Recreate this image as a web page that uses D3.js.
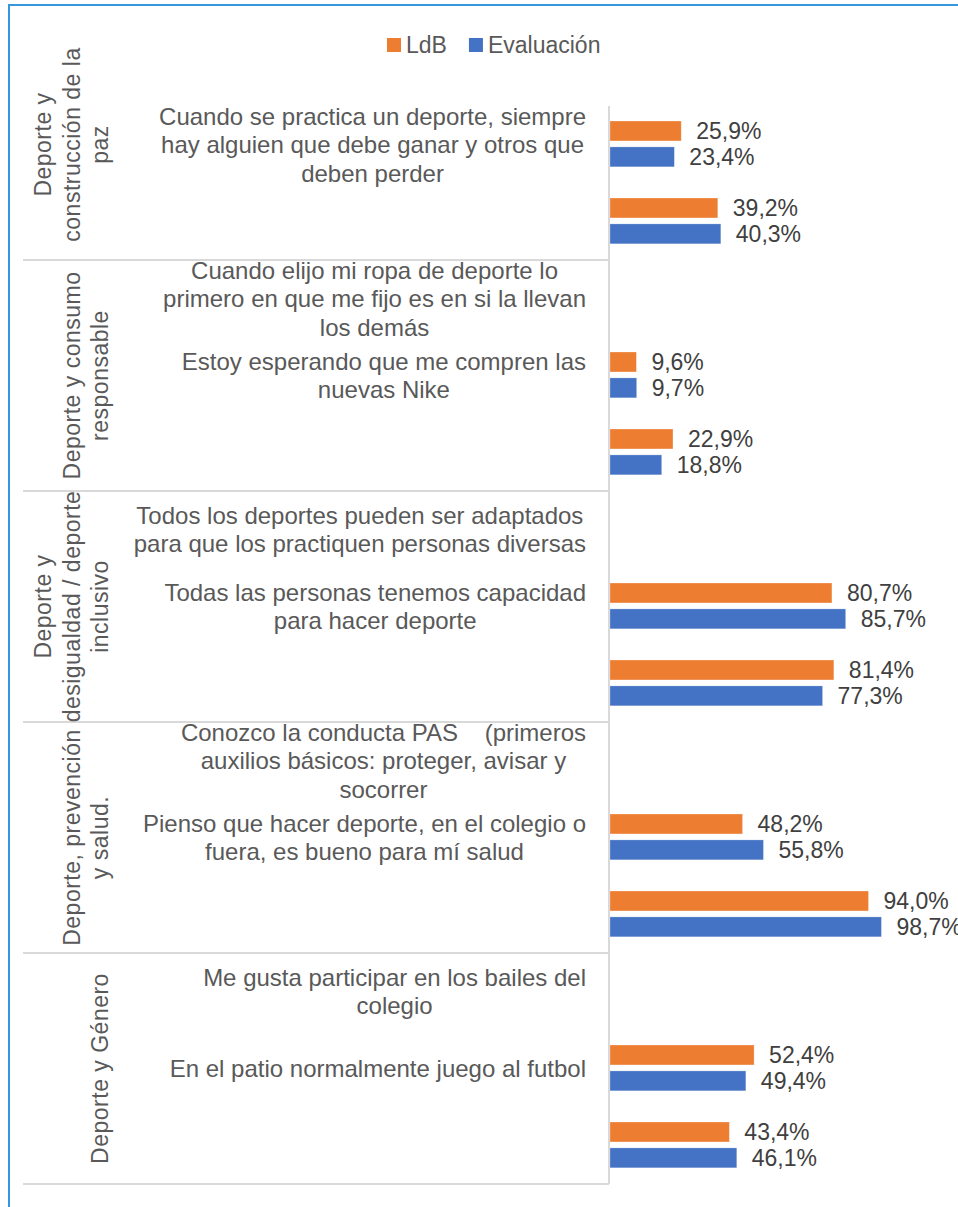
<!DOCTYPE html>
<html>
<head>
<meta charset="utf-8">
<script src="https://cdn.jsdelivr.net/npm/d3@7"></script>
<style>
  body { margin: 0; background: #fff; }
  svg { display: block; font-family: "Liberation Sans", Arial, sans-serif; }
  text { white-space: pre; }
</style>
</head>
<body>
<svg></svg>
<script>
// outer level of the category axis (one per group, 3 slots each)
const groups = [
  "Deporte y\nconstrucción de la\npaz",
  "Deporte y consumo\nresponsable",
  "Deporte y\ndesigualdad / deporte\ninclusivo",
  "Deporte, prevención\ny salud.",
  "Deporte y Género"
];
const slotsPerGroup = 3;

// inner level, top to bottom (empty string = no label shown)
const categories = [
  "", "Cuando se practica un deporte, siempre\nhay alguien que debe ganar y otros que\ndeben perder", "",
  "Cuando elijo mi ropa de deporte lo\nprimero en que me fijo es en si la llevan\nlos demás", "Estoy esperando que me compren las\nnuevas Nike", "",
  "Todos los deportes pueden ser adaptados\npara que los practiquen personas diversas", "Todas las personas tenemos capacidad\npara hacer deporte", "",
  "Conozco la conducta PAS    (primeros\nauxilios básicos: proteger, avisar y\nsocorrer", "Pienso que hacer deporte, en el colegio o\nfuera, es bueno para mí salud", "",
  "Me gusta participar en los bailes del\ncolegio", "En el patio normalmente juego al futbol", ""
];

const series = ["LdB", "Evaluación"];
const colors = ["#ED7D31", "#4472C4"];

// values per slot (null = no bar)
const ldb        = [null, 0.259, 0.392, null, 0.096, 0.229, null, 0.807, 0.814, null, 0.482, 0.940, null, 0.524, 0.434];
const evaluacion = [null, 0.234, 0.403, null, 0.097, 0.188, null, 0.857, 0.773, null, 0.558, 0.987, null, 0.494, 0.461];

const width = 958, height = 1207;
const fontSize = 23, catFont = 24, lineH = 28.5;

const svg = d3.select('svg')
    .attr('width', width)
    .attr('height', height);

// chart frame (extends past the window)
svg.append('rect')
    .attr('x', 9).attr('y', 5)
    .attr('width', 1000).attr('height', 1300)
    .attr('fill', 'none')
    .attr('stroke', '#3597DD')
    .attr('stroke-width', 2);

// scales
const slots = d3.range(categories.length);
const y = d3.scaleBand().domain(slots).range([29, 1184]);
const bw = y.bandwidth();
const yInner = d3.scaleBand()
    .domain(series)
    .range([bw * 0.195, bw * 0.79])
    .paddingInner(0.23);
const x = d3.scaleLinear().domain([0, 1]).range([610, 885]);

const fmt = v => d3.format('.1f')(v * 100).replace('.', ',') + '%';

// bars + data labels
const rows = [];
slots.forEach(i => {
  [ldb[i], evaluacion[i]].forEach((v, s) => {
    if (v != null) rows.push({ slot: i, s: s, v: v });
  });
});

svg.selectAll('rect.bar')
    .data(rows)
    .enter()
    .append('rect')
    .attr('class', 'bar')
    .attr('x', x(0))
    .attr('y', d => y(d.slot) + yInner(series[d.s]))
    .attr('width', d => x(d.v) - x(0))
    .attr('height', yInner.bandwidth())
    .attr('fill', d => colors[d.s])
    .attr('stroke', '#fff')
    .attr('stroke-opacity', 0.35)
    .attr('stroke-width', 0.75);

svg.selectAll('text.val')
    .data(rows)
    .enter()
    .append('text')
    .attr('class', 'val')
    .attr('x', d => x(d.v) + 15)
    .attr('y', d => y(d.slot) + yInner(series[d.s]) + yInner.bandwidth() / 2)
    .attr('dominant-baseline', 'central')
    .attr('font-size', fontSize)
    .attr('fill', '#404040')
    .text(d => fmt(d.v));

// axis line + group separators
const axisColor = '#D9D9D9';
svg.append('line')
    .attr('x1', x(0) - 1).attr('x2', x(0) - 1)
    .attr('y1', y(1)).attr('y2', y(slots.length - 1) + bw)
    .attr('stroke', axisColor).attr('stroke-width', 2);

groups.forEach((g, gi) => {
  const yb = y(gi * slotsPerGroup + slotsPerGroup - 1) + bw;
  svg.append('line')
      .attr('x1', 23).attr('x2', x(0) - 1)
      .attr('y1', yb).attr('y2', yb)
      .attr('stroke', axisColor).attr('stroke-width', 2);
});

// category labels: block right edge at 586, lines centred within block
const labelRight = 586;
slots.forEach(i => {
  if (!categories[i]) return;
  const lines = categories[i].split('\n');
  const cy = y(i) + bw / 2;
  const t = svg.append('g');
  const texts = t.selectAll('text')
      .data(lines)
      .enter()
      .append('text')
      .attr('y', (d, k) => cy + (k - (lines.length - 1) / 2) * lineH)
      .attr('dominant-baseline', 'central')
      .attr('text-anchor', 'middle')
      .attr('font-size', catFont)
      .attr('fill', '#595959')
      .text(d => d);
  let maxW = 0;
  texts.each(function() { maxW = Math.max(maxW, this.getComputedTextLength()); });
  texts.attr('x', labelRight - maxW / 2);
});

// group labels, rotated
groups.forEach((g, gi) => {
  const lines = g.split('\n');
  const first = y(gi * slotsPerGroup);
  const last = y(gi * slotsPerGroup + slotsPerGroup - 1) + bw;
  const cy = (first + last) / 2;
  lines.forEach((ln, k) => {
    const lx = 100 - (lines.length - 1 - k) * lineH;
    svg.append('text')
        .attr('transform', `translate(${lx},${cy}) rotate(-90)`)
        .attr('text-anchor', 'middle')
        .attr('dominant-baseline', 'central')
        .attr('font-size', fontSize)
        .attr('letter-spacing', 0.5)
        .attr('fill', '#595959')
        .text(ln);
  });
});

// legend
const legend = svg.append('g');
let lx = 387;
series.forEach((s, i) => {
  legend.append('rect')
      .attr('x', lx).attr('y', 38)
      .attr('width', 14).attr('height', 14)
      .attr('fill', colors[i]);
  const t = legend.append('text')
      .attr('x', lx + 19).attr('y', 45)
      .attr('dominant-baseline', 'central')
      .attr('font-size', fontSize)
      .attr('fill', '#595959')
      .text(s);
  lx += 19 + t.node().getComputedTextLength() + 22;
});
</script>
</body>
</html>
